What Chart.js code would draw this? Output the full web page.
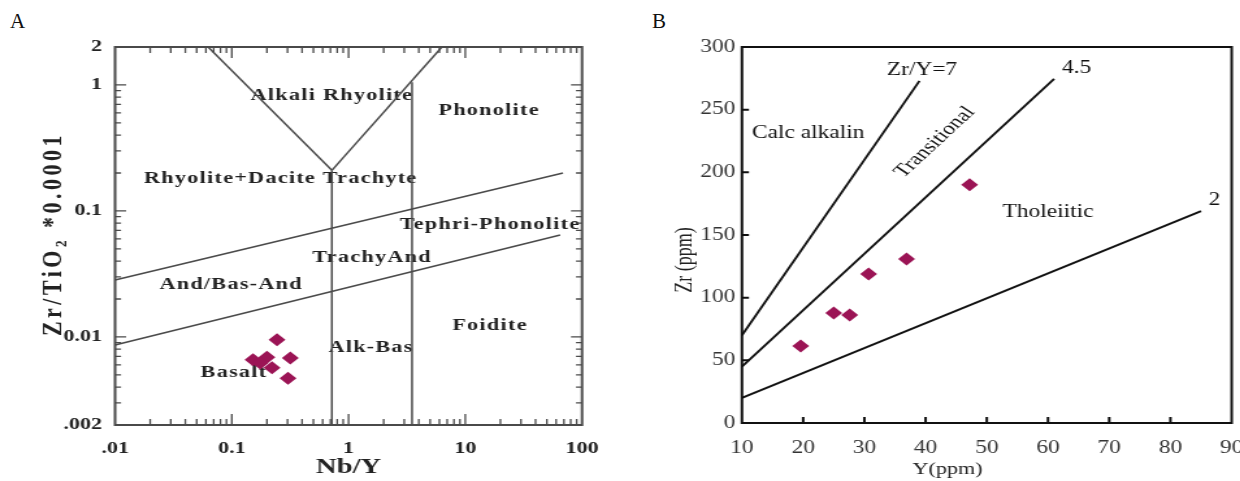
<!DOCTYPE html>
<html>
<head>
<meta charset="utf-8">
<script src="https://cdn.jsdelivr.net/npm/chart.js@4.4.1/dist/chart.umd.min.js"></script>
<style>
  body { margin: 0; background: #fff; width: 1240px; height: 481px; overflow: hidden; position: relative; font-family: "Liberation Serif", "DejaVu Serif", serif; }
  .panel { position: absolute; top: 0; width: 477px; height: 481px; transform: scaleX(1.3); transform-origin: 0 0; }
  .tag { position: absolute; top: 9px; font-size: 21px; color: #111; }
</style>
</head>
<body>
<div class="tag" style="left:10px">A</div>
<div class="tag" style="left:652px">B</div>
<div class="panel" style="left:0"><canvas id="chartA"></canvas></div>
<div class="panel" style="left:620px"><canvas id="chartB"></canvas></div>
<script>
const SERIF = '"Liberation Serif", "DejaVu Serif", serif';

// ---- panel A : Zr/TiO2 vs Nb/Y ----
const nbY    = [0.244, 0.152, 0.200, 0.175, 0.221, 0.317, 0.303];
const zrTiO2 = [0.0095, 0.0066, 0.0069, 0.0062, 0.0057, 0.0068, 0.0047];
const aXTicks  = [0.01, 0.1, 1, 10, 100];
const aXLabels = ['.01', '0.1', '1', '10', '100'];
const aYTicks  = [0.002, 0.01, 0.1, 1, 2];
const aYLabels = ['.002', '0.01', '0.1', '1', '2'];
// field boundaries, [start, end] of each segment
const aLineX = [[0.0627, 0.72], [0.72, 6.3], [0.72, 0.72], [3.5, 3.5], [0.01, 68.7], [0.01, 65]];
const aLineY = [[2, 0.21], [0.21, 2], [0.002, 0.21], [0.002, 1.05], [0.0283, 0.2], [0.00863, 0.0644]];
const aFields = ['Alkali Rhyolite', 'Phonolite', 'Rhyolite+Dacite', 'Trachyte', 'Tephri-Phonolite',
                 'TrachyAnd', 'And/Bas-And', 'Foidite', 'Alk-Bas', 'Basalt'];
const aFieldX = [0.72, 16, 0.0966, 1.53, 16.3, 1.59, 0.0986, 16.3, 1.56, 0.1045];
const aFieldY = [0.83, 0.63, 0.182, 0.182, 0.0773, 0.0423, 0.0258, 0.0122, 0.0083, 0.00518];

// ---- panel B : Zr vs Y ----
const yPpm  = [19.6, 25.0, 27.6, 30.7, 36.9, 47.2];
const zrPpm = [61.5, 87.8, 86.2, 118.9, 130.9, 190];
const bXTicks = [10, 20, 30, 40, 50, 60, 70, 80, 90];
const bYTicks = [0, 50, 100, 150, 200, 250, 300];
const bLineX = [[10, 39], [10, 61], [10, 85]];
const bLineY = [[70, 273], [45, 274.5], [20, 169]];
const bFields = ['Calc alkalin', 'Transitional', 'Tholeiitic', 'Zr/Y=7', '4.5', '2'];
const bFieldX = [20.8, 41.5, 60, 39.4, 64.7, 87.2];
const bFieldY = [231, 224, 168, 281.7, 283, 178];
const bFieldRot = [0, -50, 0, 0, 0, 0];

const DIAMOND = '#9b1455';

// frame + inward ticks
const boxTicks = {
  id: 'boxTicks',
  afterDraw(chart, args, o) {
    const { ctx, chartArea: a, scales: { x, y } } = chart;
    ctx.save();
    ctx.strokeStyle = o.color;
    ctx.lineWidth = o.tickWidth;
    ctx.beginPath();
    o.xTicks.forEach(t => {
      const px = x.getPixelForValue(t.v);
      ctx.moveTo(px, a.bottom); ctx.lineTo(px, a.bottom - t.len);
      if (o.mirror) { ctx.moveTo(px, a.top); ctx.lineTo(px, a.top + t.len); }
    });
    o.yTicks.forEach(t => {
      const py = y.getPixelForValue(t.v);
      ctx.moveTo(a.left, py); ctx.lineTo(a.left + t.len * 0.77, py);
      if (o.mirror) { ctx.moveTo(a.right, py); ctx.lineTo(a.right - t.len * 0.77, py); }
    });
    ctx.stroke();
    ctx.lineWidth = o.width;
    ctx.strokeRect(a.left, a.top, a.right - a.left, a.bottom - a.top);
    ctx.restore();
  }
};

// field names and free text
const freeText = {
  id: 'freeText',
  beforeDatasetsDraw(chart, args, o) {
    const { ctx, scales: { x, y } } = chart;
    ctx.save();
    o.items.forEach(it => {
      const px = it.px != null ? it.px : x.getPixelForValue(it.x);
      const py = it.py != null ? it.py : y.getPixelForValue(it.y);
      ctx.save();
      ctx.translate(px, py);
      ctx.rotate((it.rot || 0) * Math.PI / 180);
      ctx.font = it.font;
      ctx.fillStyle = it.color || '#222';
      if ('letterSpacing' in ctx) ctx.letterSpacing = (it.spacing || 0) + 'px';
      ctx.textAlign = 'center';
      ctx.textBaseline = 'middle';
      ctx.fillText(it.text, 0, 0);
      ctx.restore();
    });
    ctx.restore();
  }
};

function logMinor(decades, lo, hi) {
  const out = [];
  decades.forEach(d => { for (let k = 2; k <= 9; k++) { const v = d * k; if (v > lo && v < hi) out.push({ v: v, len: 6 }); } });
  return out;
}

function segments(xs, ys, color, width) {
  return xs.map((sx, i) => ({
    type: 'scatter',
    data: [{ x: sx[0], y: ys[i][0] }, { x: sx[1], y: ys[i][1] }],
    showLine: true, pointRadius: 0, borderColor: color, borderWidth: width
  }));
}

// ---- chart A ----
const aItems = aFields.map((t, i) => ({ text: t, x: aFieldX[i], y: aFieldY[i], font: 'bold 17px ' + SERIF, color: '#222', spacing: 1 }));
aItems.push({ text: 'Zr/TiO\u2082 *0.0001', px: 41.5, py: 234, rot: -90, font: 'bold 22px ' + SERIF, color: '#222', spacing: 3.5 });

new Chart(document.getElementById('chartA'), {
  type: 'scatter',
  data: {
    datasets: [{
      data: nbY.map((v, i) => ({ x: v, y: zrTiO2[i] })),
      pointStyle: 'rectRot', pointRadius: 6.5, backgroundColor: DIAMOND, borderWidth: 0
    }].concat(segments(aLineX, aLineY, '#4a4a4a', 1.5))
  },
  options: {
    responsive: true, maintainAspectRatio: false, animation: false,
    layout: { padding: { top: 47, right: 29.3, left: 0, bottom: 0 } },
    plugins: {
      legend: { display: false }, tooltip: { enabled: false },
      freeText: { items: aItems },
      boxTicks: {
        color: '#4a4a4a', width: 2, tickWidth: 1.3, mirror: true,
        xTicks: [0.1, 1, 10].map(v => ({ v: v, len: 11 })).concat(logMinor([0.01, 0.1, 1, 10], 0.01, 100)),
        yTicks: [0.01, 0.1, 1].map(v => ({ v: v, len: 11 })).concat(logMinor([0.001, 0.01, 0.1, 1], 0.002, 2))
      }
    },
    scales: {
      x: {
        type: 'logarithmic', min: 0.01, max: 100,
        afterBuildTicks: s => { s.ticks = aXTicks.map(v => ({ value: v })); },
        afterFit: s => { s.height = 56; s.paddingLeft = 0; s.paddingRight = 0; },
        grid: { display: false, drawTicks: false }, border: { display: false },
        ticks: { callback: (v, i) => aXLabels[i], padding: 13, autoSkip: false, maxRotation: 0,
                 color: '#222', font: { family: SERIF, size: 17, weight: 'bold' } },
        title: { display: true, text: 'Nb/Y', color: '#222', padding: 0,
                 font: { family: SERIF, size: 22, weight: 'bold' } }
      },
      y: {
        type: 'logarithmic', min: 0.002, max: 2,
        afterBuildTicks: s => { s.ticks = aYTicks.map(v => ({ value: v })); },
        afterFit: s => { s.width = 88.5; s.paddingTop = 0; s.paddingBottom = 0; },
        grid: { display: false, drawTicks: false }, border: { display: false },
        ticks: { callback: (v, i) => aYLabels[i], padding: 10, autoSkip: false,
                 color: '#222', font: { family: SERIF, size: 17, weight: 'bold' } }
      }
    }
  },
  plugins: [freeText, boxTicks]
});

// ---- chart B ----
const bItems = bFields.map((t, i) => ({ text: t, x: bFieldX[i], y: bFieldY[i], rot: bFieldRot[i], font: '18px ' + SERIF, color: '#111' }));
bItems.push({ text: 'Zr (ppm)', px: 50, py: 260, rot: -90, font: '18px ' + SERIF, color: '#222' });
bItems.push({ text: 'Y(ppm)', px: 252, py: 470, font: '17px ' + SERIF, color: '#222' });

new Chart(document.getElementById('chartB'), {
  type: 'scatter',
  data: {
    datasets: [{
      data: yPpm.map((v, i) => ({ x: v, y: zrPpm[i] })),
      pointStyle: 'rectRot', pointRadius: 6.5, backgroundColor: DIAMOND, borderWidth: 0
    }].concat(segments(bLineX, bLineY, '#111', 1.9))
  },
  options: {
    responsive: true, maintainAspectRatio: false, animation: false,
    layout: { padding: { top: 47, right: 6.2, left: 0, bottom: 0 } },
    plugins: {
      legend: { display: false }, tooltip: { enabled: false },
      freeText: { items: bItems },
      boxTicks: {
        color: '#111', width: 2, tickWidth: 2, mirror: false,
        xTicks: bXTicks.slice(1, -1).map(v => ({ v: v, len: 6 })),
        yTicks: bYTicks.slice(1, -1).map(v => ({ v: v, len: 7 }))
      }
    },
    scales: {
      x: {
        type: 'linear', min: 10, max: 90,
        afterBuildTicks: s => { s.ticks = bXTicks.map(v => ({ value: v })); },
        afterFit: s => { s.height = 58; s.paddingLeft = 0; s.paddingRight = 0; },
        grid: { display: false, drawTicks: false }, border: { display: false },
        ticks: { padding: 14, autoSkip: false, maxRotation: 0, color: '#333', font: { family: SERIF, size: 18 } }
      },
      y: {
        type: 'linear', min: 0, max: 300,
        afterBuildTicks: s => { s.ticks = bYTicks.map(v => ({ value: v })); },
        afterFit: s => { s.width = 93.8; s.paddingTop = 0; s.paddingBottom = 0; },
        grid: { display: false, drawTicks: false }, border: { display: false },
        ticks: { padding: 5, autoSkip: false, color: '#333', font: { family: SERIF, size: 18 } }
      }
    }
  },
  plugins: [freeText, boxTicks]
});
</script>
</body>
</html>
